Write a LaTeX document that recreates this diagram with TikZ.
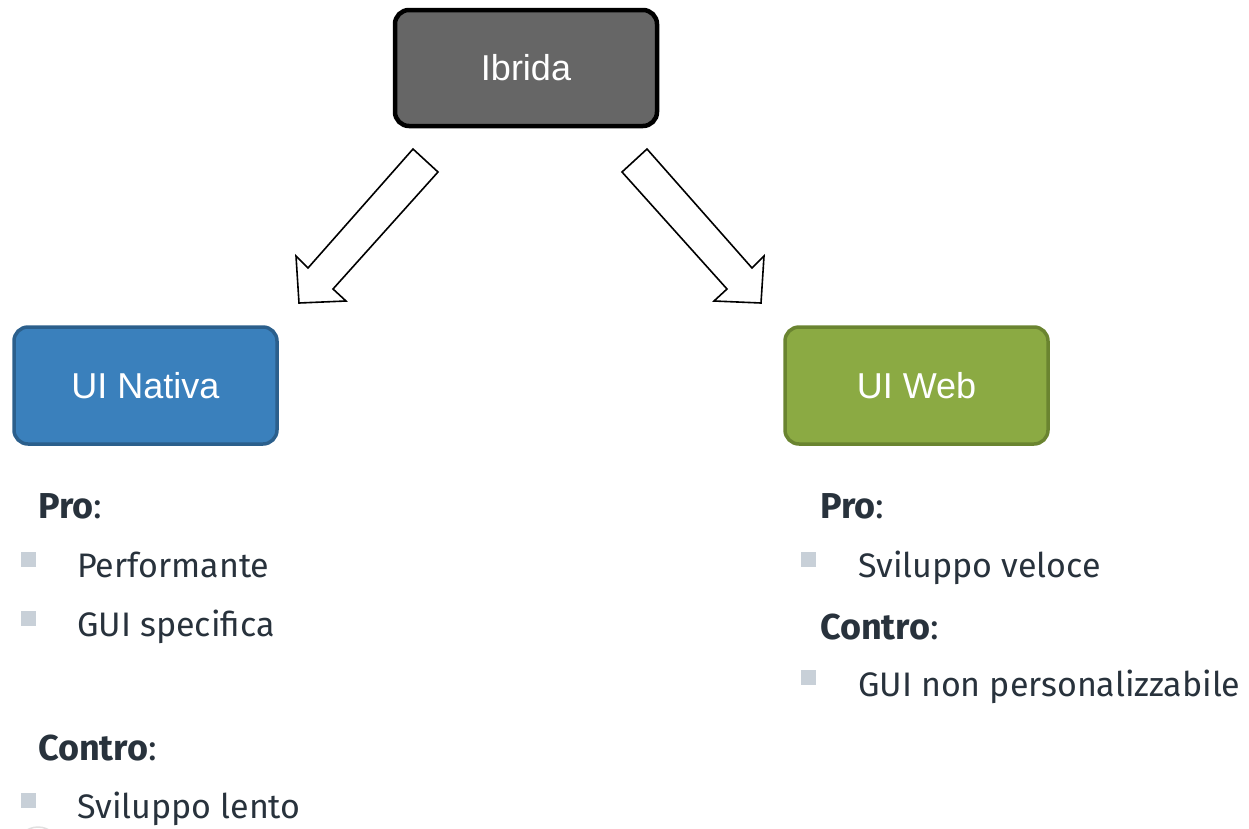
\documentclass[tikz,border=0pt]{standalone}
\usepackage{fontspec}
\setmainfont{Fira Sans}
\newfontfamily\boxfont{Liberation Sans}
\definecolor{ibfill}{RGB}{102,102,102}
\definecolor{natfill}{RGB}{58,128,188}
\definecolor{natdraw}{RGB}{43,95,140}
\definecolor{webfill}{RGB}{139,170,67}
\definecolor{webdraw}{RGB}{106,132,48}
\definecolor{bul}{RGB}{200,208,216}
\definecolor{txt}{RGB}{40,50,60}
\begin{document}
\begin{tikzpicture}[x=1pt,y=-1pt]
\useasboundingbox (0,0) rectangle (1249,828);
\tikzset{
 boxstyle/.style={rounded corners=14pt, minimum width=263pt, minimum height=117pt, font=\boxfont\fontsize{36}{40}\selectfont, text=white, line width=3.5pt, inner sep=0pt},
 blockarrow/.style={draw=black, fill=white, line width=1.6pt, line join=miter},
 headtxt/.style={anchor=base west, text=txt, font=\fontsize{36}{40}\selectfont, inner sep=0pt},
 itemtxt/.style={anchor=base west, text=txt, font=\fontsize{34}{38}\selectfont, inner sep=0pt},
 bulletsq/.style={fill=bul, draw=none, minimum size=15pt, inner sep=0pt}
}
% boxes
\node[boxstyle, fill=ibfill, draw=black, line width=4.5pt, minimum width=262pt, minimum height=116pt] (ibrida) at (526,68) {Ibrida};
\node[boxstyle, fill=natfill, draw=natdraw] (nativa) at (145.5,385.5) {UI Nativa};
\node[boxstyle, fill=webfill, draw=webdraw] (web) at (916.5,385.5) {UI Web};
% block arrows
\draw[blockarrow] (413,149) -- (438,172) -- (333,289) -- (346,301) -- (299,303) -- (296,256) -- (308,268) -- cycle;
\draw[blockarrow] (647,149) -- (622,172) -- (727,289) -- (714,301) -- (761,303) -- (764,256) -- (752,268) -- cycle;
% left list
\node[headtxt] (lpro) at (38,518) {\textbf{Pro}:};
\node[bulletsq] (lb1) at (28,559) {};
\node[itemtxt] (li1) at (77,577) {Performante};
\node[bulletsq] (lb2) at (28,618) {};
\node[itemtxt] (li2) at (77,636) {GUI specifica};
\node[headtxt] (lcon) at (38,760) {\textbf{Contro}:};
\node[bulletsq] (lb3) at (28,800) {};
\node[itemtxt] (li3) at (77,818) {Sviluppo lento};
% right list
\node[headtxt] (rpro) at (820,518) {\textbf{Pro}:};
\node[bulletsq] (rb1) at (808.5,559) {};
\node[itemtxt] (ri1) at (858,577) {Sviluppo veloce};
\node[headtxt] (rcon) at (820,639) {\textbf{Contro}:};
\node[bulletsq] (rb2) at (808.5,677) {};
\node[itemtxt] (ri2) at (858,696) {GUI non personalizzabile};
% faint partial circle at bottom edge
\begin{scope}
\clip (0,0) rectangle (1249,828);
\draw[black!12, line width=1.5pt] (38,849) circle (22);
\end{scope}
\end{tikzpicture}
\end{document}
